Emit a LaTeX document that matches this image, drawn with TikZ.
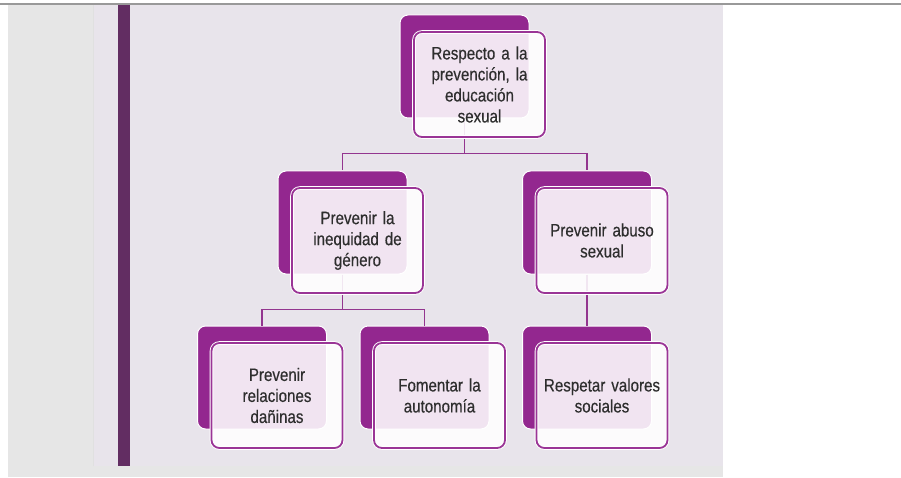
\documentclass[tikz,border=0pt]{standalone}
\usepackage{fontspec}
\setmainfont{Liberation Sans}[FakeStretch=0.84 ,FakeBold=0.4 ,WordSpace=0.8]
\usetikzlibrary{positioning}

\definecolor{backpurple}{HTML}{93278F}
\definecolor{boxline}{HTML}{9A3596}
\definecolor{connline}{HTML}{93358F}
\definecolor{barpurple}{HTML}{622D62}
\definecolor{panel}{HTML}{E8E4EB}
\definecolor{sidegray}{HTML}{E6E6E6}
\definecolor{textgray}{HTML}{2E2E2E}

\begin{document}
\begin{tikzpicture}[x=1pt ,y=1pt ,node distance =156pt and 122pt ,on grid ,
back/.style ={ rectangle ,rounded corners =8pt ,fill =backpurple ,
draw =white ,line width =1pt ,minimum width =129pt ,minimum height =103pt},
front/.style ={ rectangle ,rounded corners =8pt ,fill =white ,fill opacity =0.88 ,
text opacity =1 ,draw =boxline ,line width =1.8pt ,
preaction ={draw =white ,line width =3.6pt} ,
minimum width =131pt ,minimum height =105pt ,text width =118pt ,align =center ,
font =\fontsize{18}{21}\selectfont ,text =textgray},
conn/.style ={ draw =connline ,line width =1.8pt}
]
\useasboundingbox (0,0) rectangle (901,477);
% background
\fill[sidegray] (8,0) rectangle (723,472);
\fill[panel] (93,11) rectangle (723,472);
\draw[black!12 ,line width=0.8pt] (93,11) -- (93,472);
\fill[barpurple] (118,11) rectangle (130,472);
\draw[black!40 ,line width=1.5pt] (0,473) -- (901,473);
% back boxes
\node[back] (Rb) at (464.5,410.5) {};
\node[back] (Gb) [below left = 156pt and 122pt of Rb] {};
\node[back] (Ab) [below right = 156pt and 122.5pt of Rb] {};
\node[back] (Db) [below left = 155pt and 80.5pt of Gb] {};
\node[back] (Fb) [below right = 155pt and 82pt of Gb] {};
\node[back] (Vb) [below = 155pt of Ab] {};
% connectors
\draw[conn] (Rb.south) -- ++(0,-35) -| (Gb.north);
\draw[conn] (Rb.south) -- ++(0,-35) -| (Ab.north);
\draw[conn] (Gb.south) -- ++(0,-35) -| (Db.north);
\draw[conn] (Gb.south) -- ++(0,-35) -| (Fb.north);
\draw[conn] (Ab.south) -- (Vb.north);
% front boxes
\node[front] (R) [below right = 18pt and 15pt of Rb] {Respecto a la\\prevención, la\\educación\\sexual};
\node[front] (G) [below right = 18pt and 15pt of Gb] {Prevenir la\\inequidad de\\género};
\node[front] (A) [below right = 18pt and 15pt of Ab] {Prevenir abuso\\sexual};
\node[front] (D) [below right = 18pt and 15pt of Db] {Prevenir\\relaciones\\dañinas};
\node[front] (F) [below right = 18pt and 15pt of Fb] {Fomentar la\\autonomía};
\node[front] (V) [below right = 18pt and 15pt of Vb] {Respetar valores\\sociales};
\end{tikzpicture}
\end{document}
